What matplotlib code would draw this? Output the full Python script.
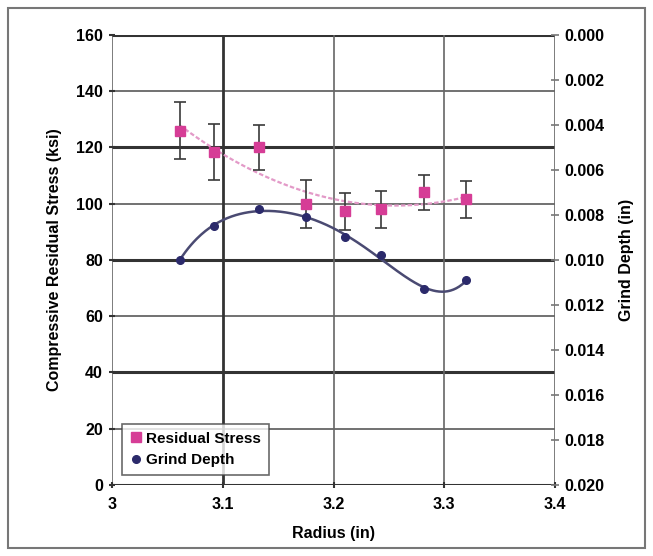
import matplotlib
matplotlib.use("Agg")
import matplotlib.pyplot as plt
import numpy as np

# ------------------------------
# Data
# ------------------------------
radius = [3.061, 3.092, 3.133, 3.175, 3.210, 3.243, 3.282, 3.320]
stress = [126.0, 118.5, 120.0, 99.8, 97.3, 98.0, 104.0, 101.5]
stress_err = [10.0, 10.0, 8.0, 8.5, 6.5, 6.5, 6.3, 6.6]
depth = [0.0100, 0.0085, 0.00775, 0.0081, 0.0090, 0.0098, 0.0113, 0.0109]

x_ticks = [3.0, 3.1, 3.2, 3.3, 3.4]
x_tick_labels = ["3", "3.1", "3.2", "3.3", "3.4"]
y_ticks = list(range(0, 161, 20))
y2_ticks = [i * 0.002 for i in range(11)]

plt.rcParams["font.family"] = ["Liberation Sans", "DejaVu Sans"]
plt.rcParams["font.weight"] = "bold"

pink = "#d63d96"
navy = "#2b2a6b"

fig = plt.figure(figsize=(6.53, 5.56), dpi=100)
ax = fig.add_axes([0.1715, 0.128, 0.6785, 0.809])

# outer frame around the figure
fig.patches.append(plt.Rectangle((0.012, 0.014), 0.976, 0.972, transform=fig.transFigure,
                                 fill=False, edgecolor="#777777", lw=1.5))

# grid lines (alternating weight like the original)
for v in y_ticks:
    heavy = v % 40 == 0
    ax.axhline(v, color="#333333" if heavy else "#666666", lw=2.2 if heavy else 1.3, zorder=1)
for v in x_ticks:
    heavy = v == 3.1
    ax.axvline(v, color="#333333" if heavy else "#666666", lw=2.0 if heavy else 1.2, zorder=1)

ax.set_xlim(3.0, 3.4)
ax.set_ylim(0, 160)
for s in ax.spines.values():
    s.set_visible(False)

# trend line for residual stress
xs = np.linspace(radius[0], radius[-1], 200)
p_s = np.polyfit(radius, stress, 2)
ax.plot(xs, np.polyval(p_s, xs), color="#e39ac8", lw=1.6, ls=(0, (2, 1)), zorder=2)

ax.errorbar(radius, stress, yerr=stress_err, fmt="none",
            ecolor="#3a3a3a", elinewidth=1.2, capsize=4, capthick=1.2, zorder=3)
ax.plot(radius, stress, "s", color=pink, ms=7, zorder=4, label="Residual Stress")

ax.set_xticks(x_ticks)
ax.set_xticklabels(x_tick_labels)
ax.set_yticks(y_ticks)
ax.tick_params(axis="both", labelsize=11.5, length=5, width=1.5, color="#333333")
ax.tick_params(axis="x", direction="inout", pad=6)
ax.tick_params(axis="y", direction="inout", pad=4)
ax.set_xlabel("Radius (in)", fontsize=11.5, fontweight="bold", labelpad=10)
ax.set_ylabel("Compressive Residual Stress (ksi)", fontsize=11.5, fontweight="bold", labelpad=10)

# grind depth on inverted right axis
ax2 = ax.twinx()
ax2.set_ylim(0.020, 0.0)
for s in ax2.spines.values():
    s.set_visible(False)
p_d = np.polyfit(radius, depth, 5)
ax2.plot(xs, np.polyval(p_d, xs), color="#4a4a72", lw=1.8, zorder=2)
ax2.plot(radius, depth, "o", color=navy, ms=5.5, zorder=4, label="Grind Depth")
ax2.set_yticks(y2_ticks)
ax2.set_yticklabels([f"{v:.3f}" for v in y2_ticks])
ax2.tick_params(axis="y", labelsize=11.5, direction="inout", length=6, width=1.2,
                color="#777777", pad=4)
ax2.set_ylabel("Grind Depth (in)", fontsize=11.5, fontweight="bold", labelpad=10)

h1, l1 = ax.get_legend_handles_labels()
h2, l2 = ax2.get_legend_handles_labels()
leg = ax2.legend(h1 + h2, l1 + l2, loc="lower left", bbox_to_anchor=(0.012, 0.012),
                 fontsize=11, frameon=True, fancybox=False, handlelength=0.8,
                 handletextpad=0.3, borderpad=0.5, labelspacing=0.5,
                 borderaxespad=0.3)
leg.get_frame().set_edgecolor("#444444")
leg.get_frame().set_linewidth(1.2)
for t in leg.get_texts():
    t.set_fontweight("bold")

fig.savefig("out.png", dpi=100)
